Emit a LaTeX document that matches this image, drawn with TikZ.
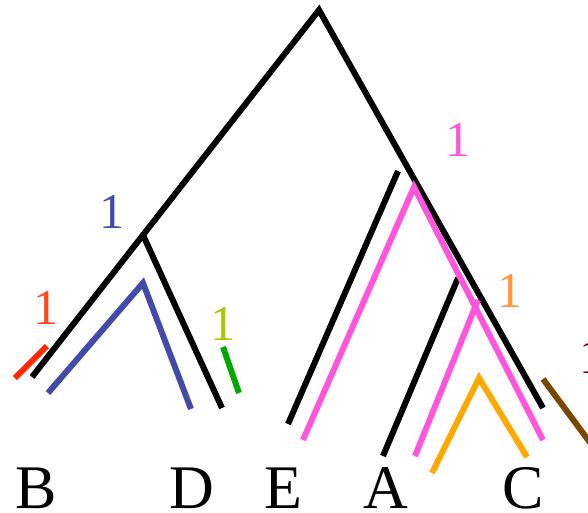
\documentclass[tikz,border=0pt]{standalone}
\usepackage{fontspec}
\setmainfont{Liberation Serif}
\newfontfamily\timesfont{Liberation Serif}
\definecolor{blueline}{RGB}{66,74,170}
\definecolor{pinkline}{RGB}{255,85,220}
\definecolor{orangeline}{RGB}{255,168,0}
\definecolor{orangelabel}{RGB}{255,150,60}
\definecolor{redline}{RGB}{255,40,0}
\definecolor{redlabel}{RGB}{255,70,30}
\definecolor{greenline}{RGB}{0,168,0}
\definecolor{greenlabel}{RGB}{170,200,0}
\definecolor{brownline}{RGB}{120,72,0}
\definecolor{darkredlabel}{RGB}{128,0,0}
\tikzset{
  branch/.style={line width=6pt},
  leaf/.style={font=\timesfont\fontsize{62}{62}\selectfont, inner sep=0pt, anchor=base},
  count/.style={font=\timesfont\fontsize{50}{50}\selectfont, inner sep=0pt}
}

\begin{document}
\begin{tikzpicture}[x=1pt,y=-1pt]
			\useasboundingbox (0,0) rectangle (588,513);
			% black tree
			\coordinate (root) at (319,10);
			\coordinate (bd) at (143,235);
			\coordinate (b) at (32,377);
			\coordinate (d) at (222,408);
			\coordinate (c) at (543,408);
			\coordinate (etop) at (398,171);
			\coordinate (e) at (288,424);
			\coordinate (atop) at (458,278);
			\coordinate (a) at (383,456);
			\draw[branch] (b) -- (bd) -- (root) -- (c);
			\draw[branch] (bd) -- (d);
			\draw[branch] (etop) -- (e);
			\draw[branch] (atop) -- (a);
			% coloured paths
			\coordinate (redtop) at (47,346);
			\coordinate (redend) at (15,378);
			\draw[branch, redline] (redend) -- (redtop);
			\coordinate (blueapex) at (143,283);
			\coordinate (blueleft) at (48,393);
			\coordinate (blueright) at (191,409);
			\draw[branch, blueline] (blueleft) -- (blueapex) -- (blueright);
			\coordinate (greentop) at (223,347);
			\coordinate (greenend) at (239,393);
			\draw[branch, greenline] (greentop) -- (greenend);
			\coordinate (pinkapex) at (414,187);
			\coordinate (pinkleft) at (303,440);
			\coordinate (pinkright) at (543,440);
			\coordinate (pinktop) at (478,300);
			\coordinate (pinkend) at (415,456);
			\draw[branch, pinkline] (pinkleft) -- (pinkapex) -- (pinkright);
			\draw[branch, pinkline] (pinktop) -- (pinkend);
			\coordinate (orangeapex) at (479,378);
			\coordinate (orangeleft) at (432,473);
			\coordinate (orangeright) at (527,457);
			\draw[branch, orangeline] (orangeleft) -- (orangeapex) -- (orangeright);
			\coordinate (browntop) at (543,379);
			\coordinate (brownend) at (600,456);
			\draw[branch, brownline] (browntop) -- (brownend);
			% counts
			\node[count, redlabel] (redone) at (46,308) {1};
			\node[count, blueline] (blueone) at (112,212) {1};
			\node[count, greenlabel] (greenone) at (223,324) {1};
			\node[count, pinkline] (pinkone) at (458,140) {1};
			\node[count, orangelabel] (orangeone) at (510,291) {1};
			\node[count, darkredlabel] (brownone) at (592,357) {1};
			% leaves
			\node[leaf] (lb) at (36,508) {B};
			\node[leaf] (ld) at (192,508) {D};
			\node[leaf] (le) at (283,508) {E};
			\node[leaf] (la) at (386,508) {A};
			\node[leaf] (lc) at (523,508) {C};
		\end{tikzpicture}
\end{document}
